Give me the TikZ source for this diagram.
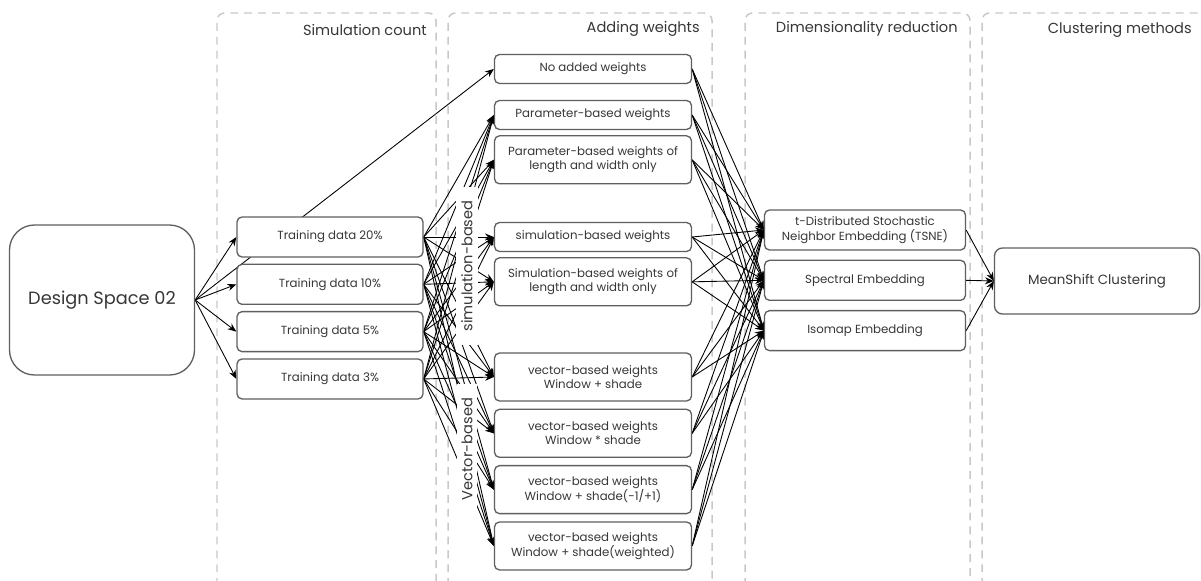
\documentclass[tikz,border=0pt]{standalone}
\usepackage{fontspec}
\setmainfont{Poppins}
\usepackage{tikz}
\usetikzlibrary{arrows.meta, positioning, backgrounds}
\definecolor{boxgray}{RGB}{95,95,95}
\definecolor{textgray}{RGB}{55,55,55}
\definecolor{dashgray}{RGB}{200,200,200}

\begin{document}
\begin{tikzpicture}[
    node distance=0.12cm,
    stage/.style={rectangle, draw=boxgray, line width=0.75pt, rounded corners=0.1cm, fill=white, text=textgray, align=center, font=\fontsize{6.7}{8.2}\selectfont},
    count/.style={stage, minimum width=3.72cm, minimum height=0.8cm},
    weight/.style={stage, minimum width=3.94cm, minimum height=0.58cm},
    weighttall/.style={weight, minimum height=0.96cm},
    reduce/.style={stage, minimum width=4.02cm, minimum height=0.8cm},
    column/.style={draw=dashgray, dash pattern=on 4.5pt off 3.4pt, line width=0.85pt, rounded corners=0.15cm},
    title/.style={anchor=east, inner sep=0pt, text=textgray, font=\fontsize{8.3}{10}\selectfont},
    group/.style={rotate=90, fill=white, text=textgray, inner xsep=0.28cm, inner ysep=0.1cm, font=\fontsize{8.3}{10}\selectfont},
    arrow/.style={-{Stealth[length=5pt, width=4pt]}, line width=0.5pt}
]
    \useasboundingbox (0,0) rectangle (24.02,-11.6);

    % Input
    \node[stage, minimum width=3.7cm, minimum height=3cm, rounded corners=0.5cm, font=\fontsize{10.1}{12}\selectfont] (ds) at (2.04,-6.0) {Design Space 02};

    % Simulation count
    \node[count] (td20) at (6.6,-4.74) {Training data 20\%};
    \node[count, below=of td20] (td10) {Training data 10\%};
    \node[count, below=of td10] (td5) {Training data 5\%};
    \node[count, below=of td5] (td3) {Training data 3\%};

    % Adding weights
    \node[weight] (noadd) at (11.86,-1.38) {No added weights};
    \node[weight] (param) at (11.86,-2.3) {Parameter-based weights};
    \node[weighttall, below=0.1cm of param] (paramlw) {Parameter-based weights of\\length and width only};
    \node[weight] (sim) at (11.86,-4.74) {simulation-based weights};
    \node[weighttall, below=0.1cm of sim] (simlw) {Simulation-based weights of\\length and width only};
    \node[weighttall] (vec1) at (11.86,-7.54) {vector-based weights\\Window + shade};
    \node[weighttall, below=0.14cm of vec1] (vec2) {vector-based weights\\Window * shade};
    \node[weighttall, below=0.14cm of vec2] (vec3) {vector-based weights\\Window + shade(-1/+1)};
    \node[weighttall, below=0.14cm of vec3] (vec4) {vector-based weights\\Window + shade(weighted)};

    % Dimensionality reduction
    \node[reduce] (tsne) at (17.3,-4.6) {t-Distributed Stochastic\\Neighbor Embedding (TSNE)};
    \node[reduce, below=0.18cm of tsne] (spectral) {Spectral Embedding};
    \node[reduce, below=0.18cm of spectral] (isomap) {Isomap Embedding};

    % Clustering
    \node[stage, minimum width=4.1cm, minimum height=1.32cm, rounded corners=0.16cm, font=\fontsize{7.6}{9}\selectfont] (ms) at (21.94,-5.62) {MeanShift Clustering};

    % Group labels
    \node[group] (simlabel) at (9.34,-5.32) {simulation-based};
    \node[group] (veclabel) at (9.34,-8.98) {Vector-based};

    % Column titles
    \node[title] (coltd) at (8.54,-0.6) {Simulation count};
    \node[title] (colw) at (14.0,-0.58) {Adding weights};
    \node[title] (coldr) at (19.16,-0.58) {Dimensionality reduction};
    \node[title] (colcl) at (23.84,-0.6) {Clustering methods};

    \begin{scope}[on background layer]
    % Columns
    \draw[column] (4.34,-12) |- (8.72,-0.26) -- (8.72,-12);
    \draw[column] (8.96,-12) |- (14.24,-0.26) -- (14.24,-12);
    \draw[column] (14.9,-12) |- (19.4,-0.26) -- (19.4,-12);
    \draw[column] (19.64,-12) |- (24.3,-0.26) -- (24.3,-12);

    % Arrows
    \foreach \t in {td20,td10,td5,td3}
        \draw[arrow] (ds.east) -- (\t.west);
    \draw[arrow] (ds.east) -- (noadd.west);
    \foreach \t in {td20,td10,td5,td3}
        \foreach \w in {param,paramlw,sim,simlw,vec1,vec2,vec3,vec4}
            \draw[arrow] (\t.east) -- (\w.west);
    \foreach \w in {noadd,param,paramlw,sim,simlw,vec1,vec2,vec3,vec4}
        \foreach \d in {tsne,spectral,isomap}
            \draw[arrow] (\w.east) -- (\d.west);
    \foreach \d in {tsne,spectral,isomap}
        \draw[arrow] (\d.east) -- (ms.west);
    \end{scope}

\end{tikzpicture}
\end{document}
